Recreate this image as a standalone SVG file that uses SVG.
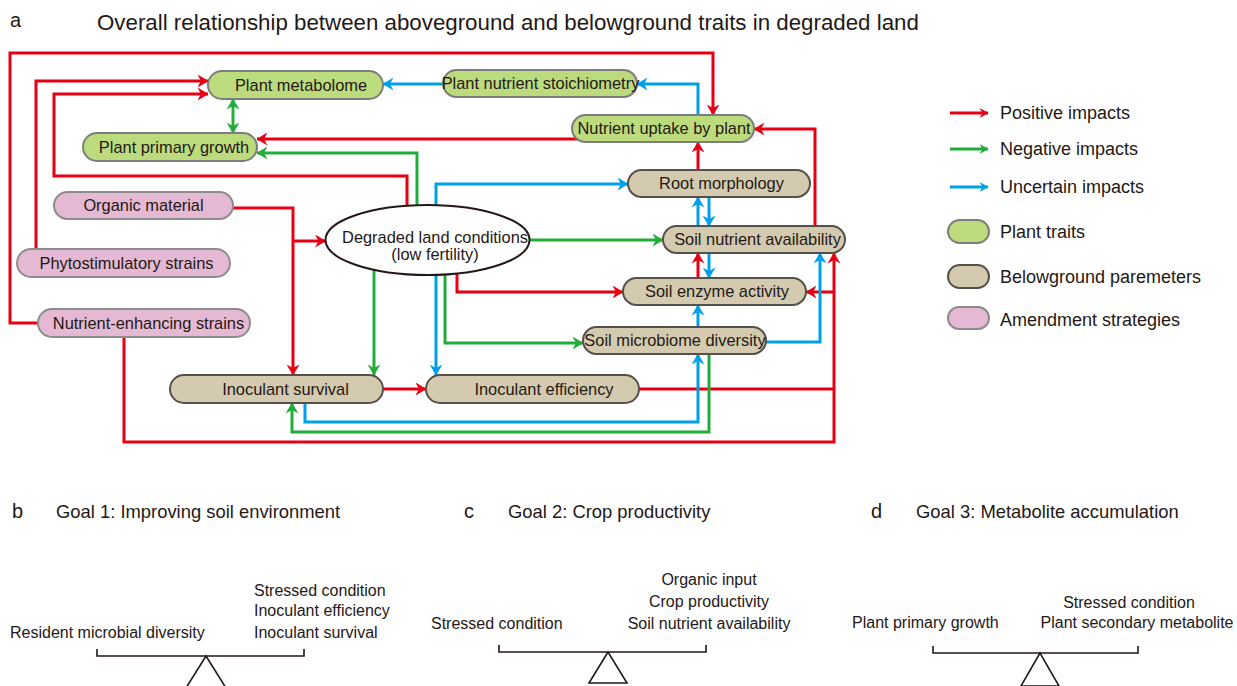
<svg xmlns="http://www.w3.org/2000/svg" width="1237" height="686" viewBox="0 0 1237 686">
<style>
  text{font-family:"Liberation Sans",Arial,sans-serif;fill:#231815}
  .nt{font-size:16.4px;text-anchor:middle}
  .lg{font-size:18px}
  .bt{font-size:16px}
  .gt{font-size:18.4px}
  .pl{font-size:20px}
  .tt{font-size:22.3px}
  .r{fill:none;stroke:#e60012;stroke-width:3}
  .g{fill:none;stroke:#22ac38;stroke-width:3}
  .b{fill:none;stroke:#00a0e9;stroke-width:3}
  .pt{fill:#bcdb7c;stroke:#7d7d7d;stroke-width:2}
  .bg{fill:#d4cab0;stroke:#56504a;stroke-width:2}
  .am{fill:#e5b9d3;stroke:#8c8c8c;stroke-width:2}
  .bal{fill:none;stroke:#231815;stroke-width:1.6}
</style>
<defs>
  <marker id="mr" viewBox="0 0 11 13" refX="10.5" refY="6.5" markerWidth="11" markerHeight="13" orient="auto-start-reverse" markerUnits="userSpaceOnUse"><path d="M0,0 L11,6.5 L0,13 L3.5,6.5 Z" fill="#e60012"/></marker>
  <marker id="mg" viewBox="0 0 11 13" refX="10.5" refY="6.5" markerWidth="11" markerHeight="13" orient="auto-start-reverse" markerUnits="userSpaceOnUse"><path d="M0,0 L11,6.5 L0,13 L3.5,6.5 Z" fill="#22ac38"/></marker>
  <marker id="mb" viewBox="0 0 11 13" refX="10.5" refY="6.5" markerWidth="11" markerHeight="13" orient="auto-start-reverse" markerUnits="userSpaceOnUse"><path d="M0,0 L11,6.5 L0,13 L3.5,6.5 Z" fill="#00a0e9"/></marker>
  <marker id="sr" viewBox="0 0 9 10" refX="8.5" refY="5" markerWidth="9" markerHeight="10" orient="auto" markerUnits="userSpaceOnUse"><path d="M0,0 L9,5 L0,10 L3,5 Z" fill="#e60012"/></marker>
  <marker id="sg" viewBox="0 0 9 10" refX="8.5" refY="5" markerWidth="9" markerHeight="10" orient="auto" markerUnits="userSpaceOnUse"><path d="M0,0 L9,5 L0,10 L3,5 Z" fill="#22ac38"/></marker>
  <marker id="sb" viewBox="0 0 9 10" refX="8.5" refY="5" markerWidth="9" markerHeight="10" orient="auto" markerUnits="userSpaceOnUse"><path d="M0,0 L9,5 L0,10 L3,5 Z" fill="#00a0e9"/></marker>
</defs>
<rect width="1237" height="686" fill="#fff"/>

<text class="pl" x="10" y="27">a</text>
<text class="tt" x="97" y="30">Overall relationship between aboveground and belowground traits in degraded land</text>

<g id="connectors">
  <!-- red -->
  <path class="r" d="M50,323 H10 V53 H713 V115" marker-end="url(#mr)"/>
  <path class="r" d="M36,255 V81 H208" marker-end="url(#mr)"/>
  <path class="r" d="M407,240 V176 H54 V94 H208" marker-end="url(#mr)"/>
  <path class="r" d="M580,139 H257" marker-end="url(#mr)"/>
  <path class="r" d="M225,208 H293 V375" marker-end="url(#mr)"/>
  <path class="r" d="M293,241 H325.5" marker-end="url(#mr)"/>
  <path class="r" d="M698,175 V142" marker-end="url(#mr)"/>
  <path class="r" d="M815,232 V129 H754" marker-end="url(#mr)"/>
  <path class="r" d="M698,285 V253" marker-end="url(#mr)"/>
  <path class="r" d="M457,240 V292 H623" marker-end="url(#mr)"/>
  <path class="r" d="M375,389 H426" marker-end="url(#mr)"/>
  <path class="r" d="M630,389 H834"/>
  <path class="r" d="M124,330 V442 H834 V253" marker-end="url(#mr)"/>
  <path class="r" d="M834,292 H806" marker-end="url(#mr)"/>
  <!-- green -->
  <path class="g" d="M233,99 V133" marker-start="url(#mg)" marker-end="url(#mg)"/>
  <path class="g" d="M417,240 V153 H257" marker-end="url(#mg)"/>
  <path class="g" d="M480,240 H663" marker-end="url(#mg)"/>
  <path class="g" d="M374,240 V375" marker-end="url(#mg)"/>
  <path class="g" d="M445,240 V343 H583" marker-end="url(#mg)"/>
  <path class="g" d="M709,345 V432 H292 V403" marker-end="url(#mg)"/>
  <!-- blue -->
  <path class="b" d="M450,84 H383" marker-end="url(#mb)"/>
  <path class="b" d="M698,120 V84 H637" marker-end="url(#mb)"/>
  <path class="b" d="M436,240 V184 H628" marker-end="url(#mb)"/>
  <path class="b" d="M698,232 V197" marker-end="url(#mb)"/>
  <path class="b" d="M709,190 V226" marker-end="url(#mb)"/>
  <path class="b" d="M709,248 V278" marker-end="url(#mb)"/>
  <path class="b" d="M698,333 V305" marker-end="url(#mb)"/>
  <path class="b" d="M760,342 H820 V253" marker-end="url(#mb)"/>
  <path class="b" d="M436,240 V375" marker-end="url(#mb)"/>
  <path class="b" d="M305,395 V422 H698 V354" marker-end="url(#mb)"/>
</g>

<g id="plant-metabolome"><rect class="pt" x="208" y="71" width="175" height="28" rx="14"/><text class="nt" x="301" y="90.5">Plant metabolome</text></g>
<g id="plant-nutrient-stoichiometry"><rect class="pt" x="443" y="70" width="194" height="27" rx="13.5"/><text class="nt" x="540.5" y="89">Plant nutrient stoichiometry</text></g>
<g id="nutrient-uptake"><rect class="pt" x="572" y="115" width="182" height="27" rx="13.5"/><text class="nt" x="664" y="134">Nutrient uptake by plant</text></g>
<g id="plant-primary-growth"><rect class="pt" x="83" y="133" width="174" height="28" rx="14"/><text class="nt" x="174" y="152.5">Plant primary growth</text></g>
<g id="organic-material"><rect class="am" x="54" y="192" width="179" height="27" rx="13.5"/><text class="nt" x="143.5" y="211">Organic material</text></g>
<g id="phytostimulatory-strains"><rect class="am" x="17" y="249" width="213" height="28" rx="14"/><text class="nt" x="126.5" y="268.5">Phytostimulatory strains</text></g>
<g id="nutrient-enhancing-strains"><rect class="am" x="38" y="309" width="212" height="28" rx="14"/><text class="nt" x="148.5" y="328.5">Nutrient-enhancing strains</text></g>
<g id="degraded-land"><ellipse cx="427.5" cy="240" rx="102" ry="35" fill="#fff" stroke="#231815" stroke-width="2"/><text class="nt" x="435" y="243">Degraded land conditions</text><text class="nt" x="435" y="260">(low fertility)</text></g>
<g id="root-morphology"><rect class="bg" x="628" y="170" width="182" height="27" rx="13.5"/><text class="nt" x="721.5" y="189">Root morphology</text></g>
<g id="soil-nutrient-availability"><rect class="bg" x="663" y="226" width="182" height="27" rx="13.5"/><text class="nt" x="757.5" y="245">Soil nutrient availability</text></g>
<g id="soil-enzyme-activity"><rect class="bg" x="623" y="278" width="183" height="27" rx="13.5"/><text class="nt" x="717" y="297">Soil enzyme activity</text></g>
<g id="soil-microbiome-diversity"><rect class="bg" x="583" y="327" width="183" height="27" rx="13.5"/><text class="nt" x="675" y="346">Soil microbiome diversity</text></g>
<g id="inoculant-survival"><rect class="bg" x="170" y="375" width="213" height="28" rx="14"/><text class="nt" x="285.5" y="394.5">Inoculant survival</text></g>
<g id="inoculant-efficiency"><rect class="bg" x="426" y="375" width="213" height="28" rx="14"/><text class="nt" x="544" y="394.5">Inoculant efficiency</text></g>

<g id="legend">
  <path class="r" d="M950,113 H988" stroke-width="2.5" marker-end="url(#sr)"/>
  <text class="lg" x="1000" y="119">Positive impacts</text>
  <path class="g" d="M950,149 H988" stroke-width="2.5" marker-end="url(#sg)"/>
  <text class="lg" x="1000" y="155">Negative impacts</text>
  <path class="b" d="M950,187 H988" stroke-width="2.5" marker-end="url(#sb)"/>
  <text class="lg" x="1000" y="193">Uncertain impacts</text>
  <rect class="pt" x="948" y="220" width="41" height="23" rx="11.5"/>
  <text class="lg" x="1000" y="238">Plant traits</text>
  <rect class="bg" x="948" y="265" width="41" height="23" rx="11.5"/>
  <text class="lg" x="1000" y="283">Belowground paremeters</text>
  <rect class="am" x="948" y="307" width="41" height="22" rx="11"/>
  <text class="lg" x="1000" y="326">Amendment strategies</text>
</g>

<g id="panel-b">
  <text class="pl" x="12" y="518">b</text>
  <text class="gt" x="56" y="518">Goal 1: Improving soil environment</text>
  <text class="bt" x="254" y="596">Stressed condition</text>
  <text class="bt" x="254" y="616">Inoculant efficiency</text>
  <text class="bt" x="254" y="638">Inoculant survival</text>
  <text class="bt" x="10" y="638">Resident microbial diversity</text>
  <path class="bal" d="M97,649 V656 H304 V649"/>
  <path class="bal" d="M206,656 L186,688 L226,688 Z"/>
</g>
<g id="panel-c">
  <text class="pl" x="464" y="518">c</text>
  <text class="gt" x="508" y="518">Goal 2: Crop productivity</text>
  <text class="bt" x="709" y="585" text-anchor="middle">Organic input</text>
  <text class="bt" x="709" y="607" text-anchor="middle">Crop productivity</text>
  <text class="bt" x="709" y="629" text-anchor="middle">Soil nutrient availability</text>
  <text class="bt" x="431" y="629">Stressed condition</text>
  <path class="bal" d="M499,645 V652 H706 V645"/>
  <path class="bal" d="M608,652 L589,683 L627,683 Z"/>
</g>
<g id="panel-d">
  <text class="pl" x="871" y="518">d</text>
  <text class="gt" x="916" y="518">Goal 3: Metabolite accumulation</text>
  <text class="bt" x="1129" y="608" text-anchor="middle">Stressed condition</text>
  <text class="bt" x="1137" y="628" text-anchor="middle">Plant secondary metabolite</text>
  <text class="bt" x="852" y="628">Plant primary growth</text>
  <path class="bal" d="M933,646 V653 H1138 V646"/>
  <path class="bal" d="M1040,653 L1021,686 L1059,686 Z"/>
</g>
</svg>
